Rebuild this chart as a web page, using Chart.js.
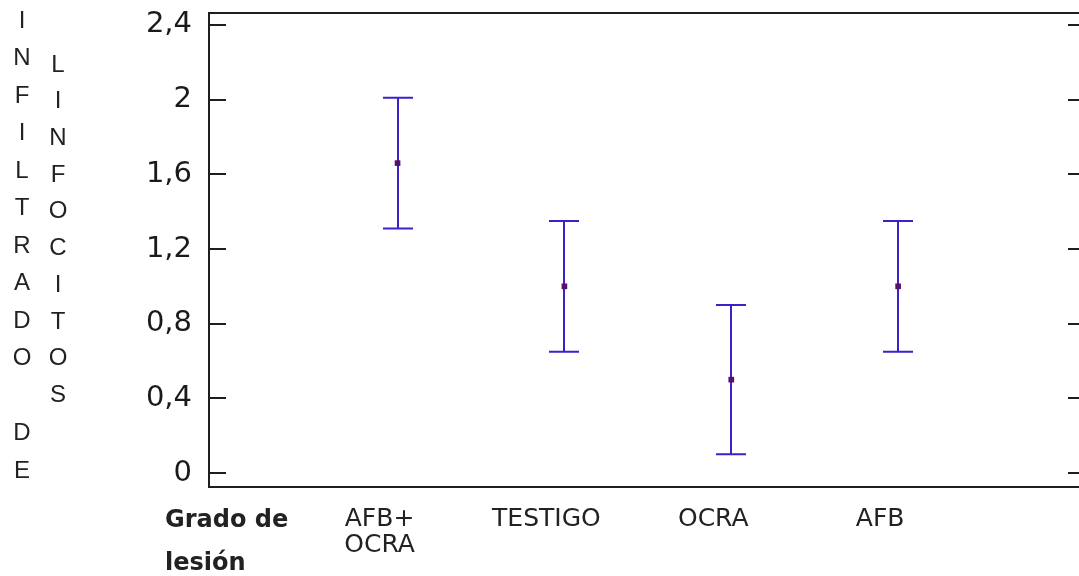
<!DOCTYPE html>
<html>
<head>
<meta charset="utf-8">
<script src="https://cdn.jsdelivr.net/npm/chart.js@4.4.1/dist/chart.umd.min.js"></script>
<style>
  html, body { margin: 0; padding: 0; background: #ffffff; overflow: hidden; }
  #chart { display: block; }
</style>
</head>
<body>
<canvas id="chart" width="1079" height="576"></canvas>
<script>
// Data
const categories = [['AFB+', 'OCRA'], 'TESTIGO', 'OCRA', 'AFB'];
const means = [1.66, 1.0, 0.5, 1.0];
const lower = [1.31, 0.65, 0.1, 0.65];
const upper = [2.01, 1.35, 0.9, 1.35];
const yTicks = [0, 0.4, 0.8, 1.2, 1.6, 2, 2.4];
const yTickLabels = ['0', '0,4', '0,8', '1,2', '1,6', '2', '2,4'];
const yTitleCol1 = 'INFILTRADO DE';
const yTitleCol2 = 'LINFOCITOS';
const xTitleLines = ['Grado de', 'lesión'];

const frameColor = '#1e1e1e';
const barColor = '#3f20c8';
const markColor = '#5a0f6a';

// Frame, inside tick marks and error bars
const framePlugin = {
  id: 'frame',
  beforeDatasetsDraw(chart) {
    const { ctx, chartArea: a, scales } = chart;
    const x = scales.x, y = scales.y;
    const right = chart.width;
    ctx.save();
    ctx.strokeStyle = frameColor;
    ctx.lineWidth = 2;
    ctx.beginPath();
    ctx.moveTo(right, a.top);
    ctx.lineTo(a.left, a.top);
    ctx.lineTo(a.left, a.bottom);
    ctx.lineTo(right, a.bottom);
    y.ticks.forEach((t) => {
      const py = Math.round(y.getPixelForValue(t.value));
      ctx.moveTo(a.left, py);
      ctx.lineTo(a.left + 17, py);
      ctx.moveTo(right - 11, py);
      ctx.lineTo(right, py);
    });
    ctx.stroke();

    // error bars
    ctx.strokeStyle = barColor;
    ctx.lineWidth = 2;
    ctx.beginPath();
    means.forEach((m, i) => {
      const px = Math.round(x.getPixelForValue(i));
      const top = y.getPixelForValue(upper[i]);
      const bot = y.getPixelForValue(lower[i]);
      ctx.moveTo(px, top);
      ctx.lineTo(px, bot);
      ctx.moveTo(px - 15, top);
      ctx.lineTo(px + 15, top);
      ctx.moveTo(px - 15, bot);
      ctx.lineTo(px + 15, bot);
    });
    ctx.stroke();
    ctx.restore();
  },
  afterDraw(chart) {
    const { ctx } = chart;
    ctx.save();
    ctx.fillStyle = '#222222';
    ctx.textAlign = 'center';
    ctx.textBaseline = 'middle';
    ctx.font = '24px "Liberation Sans", Arial, sans-serif';
    yTitleCol1.split('').forEach((ch, i) => {
      ctx.fillText(ch, 22, 21 + i * 37.5);
    });
    yTitleCol2.split('').forEach((ch, i) => {
      ctx.fillText(ch, 58, 65 + i * 36.7);
    });
    ctx.textAlign = 'left';
    ctx.textBaseline = 'alphabetic';
    ctx.font = 'bold 24px "DejaVu Sans", sans-serif';
    ctx.fillText(xTitleLines[0], 165, 527);
    ctx.fillText(xTitleLines[1], 165, 570);
    ctx.restore();
  }
};

new Chart(document.getElementById('chart').getContext('2d'), {
  type: 'scatter',
  data: {
    datasets: [
      {
        data: means.map((m, i) => ({ x: i, y: m })),
        pointStyle: 'rect',
        pointRadius: 4,
        pointHoverRadius: 4,
        backgroundColor: markColor,
        borderColor: markColor,
        borderWidth: 0,
      },
    ],
  },
  options: {
    responsive: false,
    animation: false,
    events: [],
    layout: { padding: { top: 13, left: 0, right: 0, bottom: 0 } },
    plugins: {
      legend: { display: false },
      tooltip: { enabled: false },
    },
    scales: {
      x: {
        type: 'linear',
        min: -1.13,
        max: 4.06,
        grid: { display: false, drawTicks: false },
        border: { display: false },
        afterBuildTicks: (s) => {
          s.ticks = categories.map((c, i) => ({ value: i }));
        },
        afterFit: (s) => {
          s.height = 89;
          s.paddingLeft = 0;
          s.paddingRight = 0;
        },
        ticks: {
          autoSkip: false,
          maxRotation: 0,
          padding: 19,
          labelOffset: -18,
          color: '#222222',
          font: { family: '"DejaVu Sans", sans-serif', size: 25, lineHeight: 1.05 },
          callback: (v, i) => categories[i],
        },
      },
      y: {
        min: -0.075,
        max: 2.464,
        grid: { display: false, drawTicks: false },
        border: { display: false },
        afterBuildTicks: (s) => {
          s.ticks = yTicks.map((v) => ({ value: v }));
        },
        afterFit: (s) => {
          s.width = 209;
          s.paddingTop = 0;
          s.paddingBottom = 0;
        },
        ticks: {
          padding: 17,
          color: '#1a1a1a',
          font: { family: '"DejaVu Sans", sans-serif', size: 29 },
          callback: (v, i) => yTickLabels[i],
        },
      },
    },
  },
  plugins: [framePlugin],
});
</script>
</body>
</html>
